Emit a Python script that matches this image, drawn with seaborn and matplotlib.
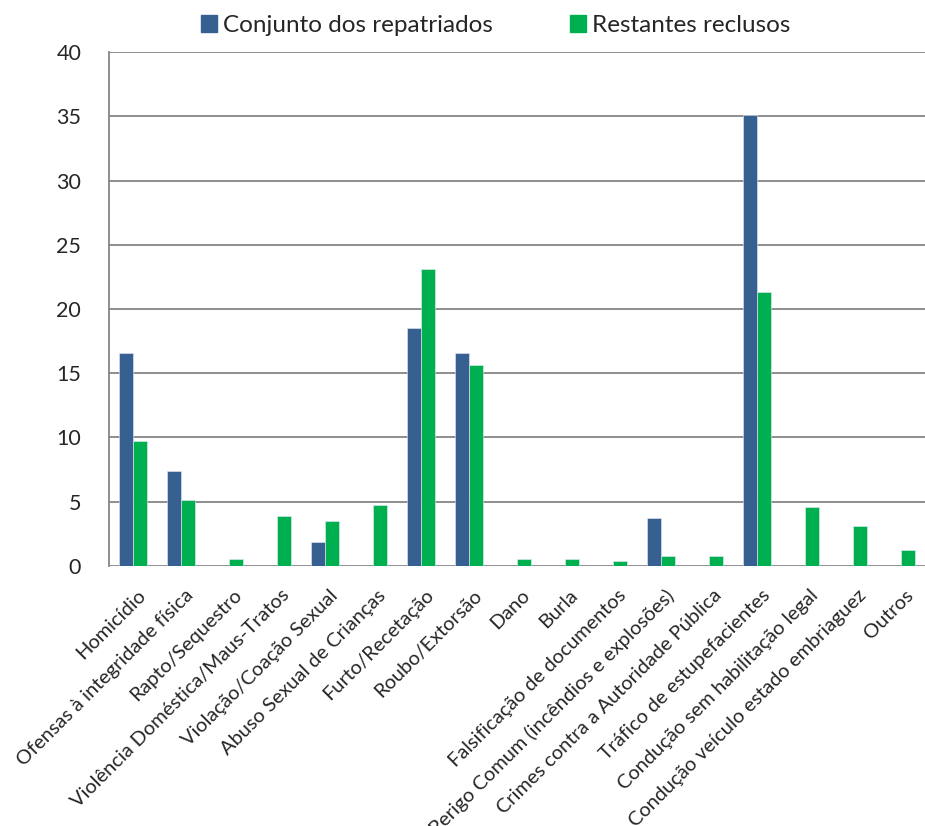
import numpy as np
import pandas as pd
import matplotlib
matplotlib.use('Agg')
import matplotlib.pyplot as plt
import matplotlib.transforms as mtransforms
import seaborn as sns

# Data (%)
categories = [
    'Homicídio',
    'Ofensas à integridade física',
    'Rapto/Sequestro',
    'Violência Doméstica/Maus-Tratos',
    'Violação/Coação Sexual',
    'Abuso Sexual de Crianças',
    'Furto/Recetação',
    'Roubo/Extorsão',
    'Dano',
    'Burla',
    'Falsificação de documentos',
    'Perigo Comum (incêndios e explosões)',
    'Crimes contra a Autoridade Pública',
    'Tráfico de estupefacientes',
    'Condução sem habilitação legal',
    'Condução veículo estado embriaguez',
    'Outros',
]
repatriados = [16.6, 7.35, 0, 0, 1.85, 0, 18.5, 16.6, 0, 0, 0, 3.7, 0, 35.1, 0, 0, 0]
restantes = [9.7, 5.1, 0.55, 3.85, 3.5, 4.75, 23.15, 15.6, 0.55, 0.55, 0.35, 0.72, 0.72, 21.35, 4.6, 3.1, 1.25]
series_names = ['Conjunto dos repatriados', 'Restantes reclusos']
yticks = [0, 5, 10, 15, 20, 25, 30, 35, 40]

df = pd.DataFrame({
    'categoria': categories * 2,
    'serie': [series_names[0]] * len(categories) + [series_names[1]] * len(categories),
    'valor': repatriados + restantes,
})

sns.set_style('white')
plt.rcParams['font.family'] = ['Lato', 'DejaVu Sans']

grid_col = '#868686'
palette = {series_names[0]: '#376092', series_names[1]: '#00B050'}

fig = plt.figure(figsize=(9.25, 8.26), dpi=100)
ax = fig.add_axes([109 / 925, 1 - 565.7 / 826, 1 - 109 / 925, (565.7 - 52.3) / 826])

sns.barplot(data=df, x='categoria', y='valor', hue='serie', palette=palette,
            width=0.585, gap=0, saturation=1, ax=ax, legend=False,
            edgecolor='#e6ecf3', linewidth=0.4, zorder=3)

ax.set_ylim(0, 40)
ax.set_xlim(-0.5, len(categories) - 0.5)
ax.set_yticks(yticks)
ax.set_yticklabels([str(v) for v in yticks], fontsize=15.5)
ax.yaxis.grid(True, color=grid_col, linewidth=1.3)
ax.set_axisbelow(True)
ax.set_xlabel('')
ax.set_ylabel('')

for side in ['top', 'right', 'bottom']:
    ax.spines[side].set_visible(False)
ax.spines['left'].set_color(grid_col)
ax.spines['left'].set_linewidth(1.3)
ax.tick_params(axis='y', which='major', length=7, width=1.3, color=grid_col, pad=13)

# category labels at centres, tick marks at category boundaries
ax.set_xticks(np.arange(len(categories)))
ax.set_xticklabels(categories, rotation=45, ha='right', va='top',
                   rotation_mode='anchor', fontsize=14.4)
ax.tick_params(axis='x', which='major', length=0, pad=15)
ax.set_xticks(np.arange(len(categories) + 1) - 0.5, minor=True)
ax.tick_params(axis='x', which='minor', length=5, width=1.3, color=grid_col)
offset = mtransforms.ScaledTranslation(4 / 100, 0, fig.dpi_scale_trans)
for lbl in ax.get_xticklabels():
    lbl.set_transform(lbl.get_transform() + offset)

handles = [plt.Rectangle((0, 0), 1, 1, color=palette[s]) for s in series_names]
fig.legend(handles, series_names, loc='center', bbox_to_anchor=(0.536, 0.969),
           ncol=2, frameon=False, fontsize=17.5, handlelength=0.65, handleheight=0.65,
           handletextpad=0.25, columnspacing=3.2)

fig.savefig('out.png', dpi=100)
